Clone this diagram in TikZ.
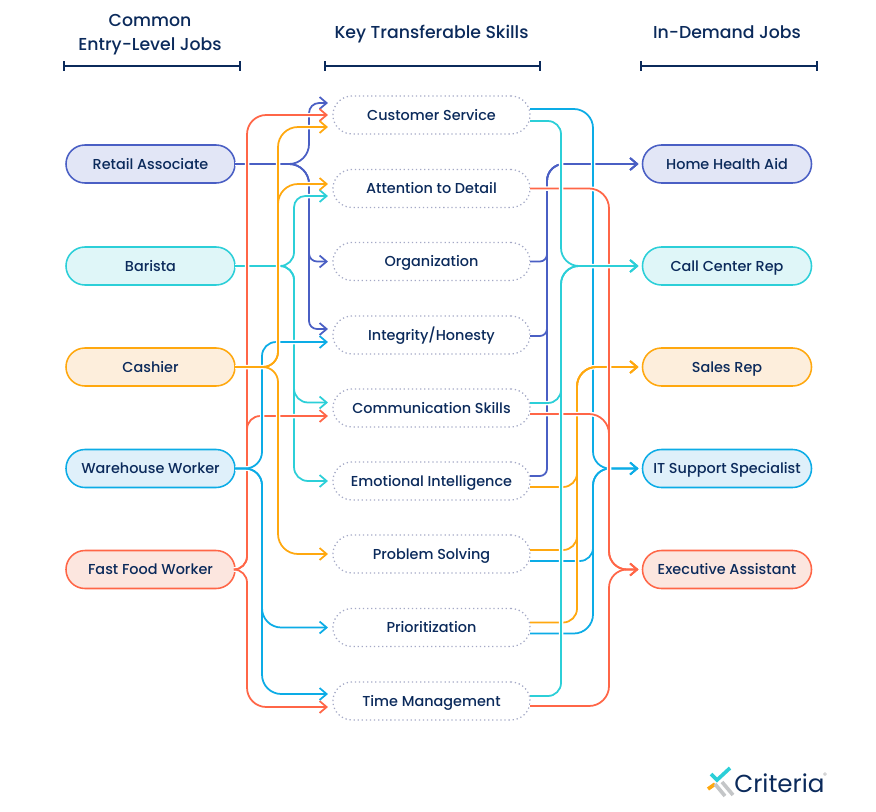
\documentclass[tikz,border=0pt]{standalone}
\usepackage{fontspec}
\setmainfont{Poppins Medium}
\newfontfamily\logofont{Poppins}
\usetikzlibrary{arrows.meta,calc}
\definecolor{navy}{HTML}{0B2A5B}
\definecolor{indigoline}{HTML}{4A5FC4}
\definecolor{indigofill}{HTML}{E2E6F6}
\definecolor{tealline}{HTML}{2CCFD8}
\definecolor{tealfill}{HTML}{DFF6F8}
\definecolor{orangeline}{HTML}{FFA80F}
\definecolor{orangefill}{HTML}{FDEEDC}
\definecolor{blueline}{HTML}{0CACE6}
\definecolor{bluefill}{HTML}{DFF0FA}
\definecolor{redline}{HTML}{FF6647}
\definecolor{redfill}{HTML}{FCE6DF}
\definecolor{dotline}{HTML}{A4A9C6}
\definecolor{logogrey}{HTML}{C4C6C8}
\tikzset{
  pill/.style={draw,rectangle,rounded corners=.475cm,minimum height=.95cm,outer sep=0pt,
    line width=1.1pt,text=navy,text height=8.4pt,text depth=1.1pt,font=\fontsize{10.25}{12}\selectfont},
  jobpill/.style={pill,minimum width=4.225cm},
  skillpill/.style={pill,minimum width=4.925cm,draw=dotline,line width=.9pt,dotted},
  headtxt/.style={text=navy,align=center,font=\fontsize{12.3}{17}\selectfont},
  headbar/.style={draw=navy,line width=1.4pt,{Bar[width=7pt]}-{Bar[width=7pt]}},
  halo/.style={draw=white,line width=3.2pt},
  link/.style={line width=1.25pt,-{Straight Barb[length=5pt,width=8.5pt,line width=1.25pt]}},
}
\begin{document}
\begin{tikzpicture}[x=.025cm,y=-.025cm]
\useasboundingbox (0,0) rectangle (876,811);
    % column heads
    \node[headtxt] (headjobs) at (150,35) {Common\\Entry-Level Jobs};
    \node[headtxt] (headskills) at (431.5,34) {Key Transferable Skills};
    \node[headtxt] (headdemand) at (727,32) {In-Demand Jobs};
    \foreach \name/\xa/\xb in {barjobs/63/241,barskills/324/541,bardemand/640/818}{
      \coordinate (\name a) at (\xa,66);
      \coordinate (\name b) at (\xb,66);
      \draw[headbar] (\name a) -- (\name b);
    }
    % the three columns
    \foreach \name/\ypos/\txt/\col in {retail/164/Retail Associate/indigo,barista/266/Barista/teal,cashier/367/Cashier/orange,warehouse/468.5/Warehouse Worker/blue,fastfood/569.5/Fast Food Worker/red}
      \node[jobpill,draw=\col line,fill=\col fill] (\name) at (150.5,\ypos) {\txt};
    \foreach \name/\ypos/\txt in {custsvc/115/Customer Service,attn/188.5/Attention to Detail,organiz/261.5/Organization,integrity/335/Integrity\slash Honesty,commskill/408/Communication Skills,emotional/481/Emotional Intelligence,problem/554/Problem Solving,prio/627.5/Prioritization,timemgmt/701/Time Management}
      \node[skillpill] (\name) at (431.5,\ypos) {\txt};
    \foreach \name/\ypos/\txt/\col in {homehealth/164/Home Health Aid/indigo,callcenter/266/Call Center Rep/teal,salesrep/367/Sales Rep/orange,itsupport/468.5/IT Support Specialist/blue,execasst/569.5/Executive Assistant/red}
      \node[jobpill,draw=\col line,fill=\col fill] (\name) at (727,\ypos) {\txt};
    % left side
    \def\retailA{(retail.east) [rounded corners=.5cm] -- ++(74,0) [rounded corners=.25cm] |- ($(custsvc.west)+(-5,-12)$)}
    \def\retailB{(retail.east) [rounded corners=.5cm] -- ++(74,0) [rounded corners=.2cm] |- ($(organiz.west)+(-5,0)$)}
    \def\retailC{(retail.east) [rounded corners=.5cm] -- ++(74,0) [rounded corners=.2cm] |- ($(integrity.west)+(-5,-6)$)}
    \draw[halo] \retailA \retailB \retailC;
    \draw[link,indigoline] \retailA;
    \draw[link,indigoline] \retailB;
    \draw[link,indigoline] \retailC;
    \def\baristaA{(barista.east) [rounded corners=.35cm] -- ++(59,0) [rounded corners=.28cm] |- ($(attn.west)+(-5,7.5)$)}
    \def\baristaB{(barista.east) [rounded corners=.35cm] -- ++(59,0) |- ($(commskill.west)+(-5,-5.5)$)}
    \def\baristaC{(barista.east) [rounded corners=.35cm] -- ++(59,0) |- ($(emotional.west)+(-5,0)$)}
    \draw[halo] \baristaA \baristaB \baristaC;
    \draw[link,tealline] \baristaA;
    \draw[link,tealline] \baristaB;
    \draw[link,tealline] \baristaC;
    \def\fastfoodA{(fastfood.east) [rounded corners=.33cm] -- ++(12,0) [rounded corners=.48cm] |- ($(custsvc.west)+(-5,0)$)}
    \def\fastfoodB{(fastfood.east) [rounded corners=.33cm] -- ++(12,0) |- ($(commskill.west)+(-5,8)$)}
    \def\fastfoodC{(fastfood.east) [rounded corners=.33cm] -- ++(12,0) [rounded corners=.48cm] |- ($(timemgmt.west)+(-5,6)$)}
    \draw[halo] \fastfoodA \fastfoodB \fastfoodC;
    \draw[link,redline] \fastfoodA;
    \draw[link,redline] \fastfoodB;
    \draw[link,redline] \fastfoodC;
    \def\warehouseA{(warehouse.east) [rounded corners=.42cm] -- ++(27,0) [rounded corners=.35cm] |- ($(integrity.west)+(-5,7)$)}
    \def\warehouseB{(warehouse.east) [rounded corners=.42cm] -- ++(27,0) [rounded corners=.48cm] |- ($(prio.west)+(-5,0)$)}
    \def\warehouseC{(warehouse.east) [rounded corners=.42cm] -- ++(27,0) [rounded corners=.48cm] |- ($(timemgmt.west)+(-5,-7)$)}
    \draw[halo] \warehouseA \warehouseB \warehouseC;
    \draw[link,blueline] \warehouseA;
    \draw[link,blueline] \warehouseB;
    \draw[link,blueline] \warehouseC;
    \def\cashierA{(cashier.east) [rounded corners=.38cm] -- ++(43,0) [rounded corners=.5cm] |- ($(custsvc.west)+(-5,12)$)}
    \def\cashierB{(cashier.east) [rounded corners=.38cm] -- ++(43,0) [rounded corners=.5cm] |- ($(attn.west)+(-5,-4.5)$)}
    \def\cashierC{(cashier.east) [rounded corners=.38cm] -- ++(43,0) [rounded corners=.5cm] |- ($(problem.west)+(-5,0)$)}
    \draw[halo] \cashierA \cashierB \cashierC;
    \draw[link,orangeline] \cashierA;
    \draw[link,orangeline] \cashierB;
    \draw[link,orangeline] \cashierC;
    % right side
    \def\healthA{($(organiz.east)+(0,0)$) [rounded corners=.18cm] -- ++(17,0) [rounded corners=.42cm] |- ($(homehealth.west)+(-4,0)$)}
    \def\healthB{($(integrity.east)+(0,1)$) [rounded corners=.18cm] -- ++(17,0) [rounded corners=.42cm] |- ($(homehealth.west)+(-4,0)$)}
    \def\healthC{($(emotional.east)+(0,-5)$) [rounded corners=.18cm] -- ++(17,0) [rounded corners=.42cm] |- ($(homehealth.west)+(-4,0)$)}
    \draw[halo] \healthA \healthB \healthC;
    \draw[link,indigoline] \healthA;
    \draw[link,indigoline] \healthB;
    \draw[link,indigoline] \healthC;
    \def\supportA{($(custsvc.east)+(0,-6)$) [rounded corners=.48cm] -- ++(63,0) [rounded corners=.42cm] |- ($(itsupport.west)+(-4,0)$)}
    \def\supportB{($(problem.east)+(0,7)$) [rounded corners=.33cm] -- ++(63,0) [rounded corners=.42cm] |- ($(itsupport.west)+(-4,0)$)}
    \def\supportC{($(prio.east)+(0,6)$) [rounded corners=.48cm] -- ++(63,0) [rounded corners=.42cm] |- ($(itsupport.west)+(-4,0)$)}
    \draw[halo] \supportA \supportB \supportC;
    \draw[link,blueline] \supportA;
    \draw[link,blueline] \supportB;
    \draw[link,blueline] \supportC;
    \def\salesA{($(emotional.east)+(0,6)$) [rounded corners=.35cm] -- ++(47,0) [rounded corners=.48cm] |- ($(salesrep.west)+(-4,0)$)}
    \def\salesB{($(problem.east)+(0,-4)$) [rounded corners=.35cm] -- ++(47,0) [rounded corners=.48cm] |- ($(salesrep.west)+(-4,0)$)}
    \def\salesC{($(prio.east)+(0,-5)$) [rounded corners=.35cm] -- ++(47,0) [rounded corners=.48cm] |- ($(salesrep.west)+(-4,0)$)}
    \draw[halo] \salesA \salesB \salesC;
    \draw[link,orangeline] \salesA;
    \draw[link,orangeline] \salesB;
    \draw[link,orangeline] \salesC;
    \def\execA{($(attn.east)+(0,0)$) [rounded corners=.5cm] -- ++(79,0) [rounded corners=.45cm] |- ($(execasst.west)+(-4,0)$)}
    \def\execB{($(commskill.east)+(0,6)$) [rounded corners=.5cm] -- ++(79,0) [rounded corners=.45cm] |- ($(execasst.west)+(-4,0)$)}
    \def\execC{($(timemgmt.east)+(0,5)$) [rounded corners=.5cm] -- ++(79,0) [rounded corners=.45cm] |- ($(execasst.west)+(-4,0)$)}
    \draw[halo] \execA \execB \execC;
    \draw[link,redline] \execA;
    \draw[link,redline] \execB;
    \draw[link,redline] \execC;
    \def\callA{($(custsvc.east)+(0,6)$) [rounded corners=.33cm] -- ++(31,0) [rounded corners=.45cm] |- ($(callcenter.west)+(-4,0)$)}
    \def\callB{($(commskill.east)+(0,-5)$) [rounded corners=.33cm] -- ++(31,0) [rounded corners=.45cm] |- ($(callcenter.west)+(-4,0)$)}
    \def\callC{($(timemgmt.east)+(0,-5)$) [rounded corners=.33cm] -- ++(31,0) [rounded corners=.45cm] |- ($(callcenter.west)+(-4,0)$)}
    \draw[halo] \callA \callB \callC;
    \draw[link,tealline] \callA;
    \draw[link,tealline] \callB;
    \draw[link,tealline] \callC;
    % logo
    \draw[tealline,line width=2.6pt] (711,774) -- (717,780) -- (730,768);
    \draw[orangeline,line width=2.6pt] (708,789) -- (715,784);
    \draw[logogrey,line width=2.6pt] (715,784) -- (725,796);
    \draw[logogrey,line width=2.6pt] (722,782) -- (733,795);
    \node[text=navy,font=\logofont\fontsize{17.5}{20}\selectfont,anchor=base west,inner sep=0pt] (logotxt) at (734,792) {Criteria};
    \node[text=logogrey!80!black,font=\logofont\fontsize{5.5}{6}\selectfont,inner sep=0pt] (logomark) at (825,775.5) {®};
\end{tikzpicture}
\end{document}
